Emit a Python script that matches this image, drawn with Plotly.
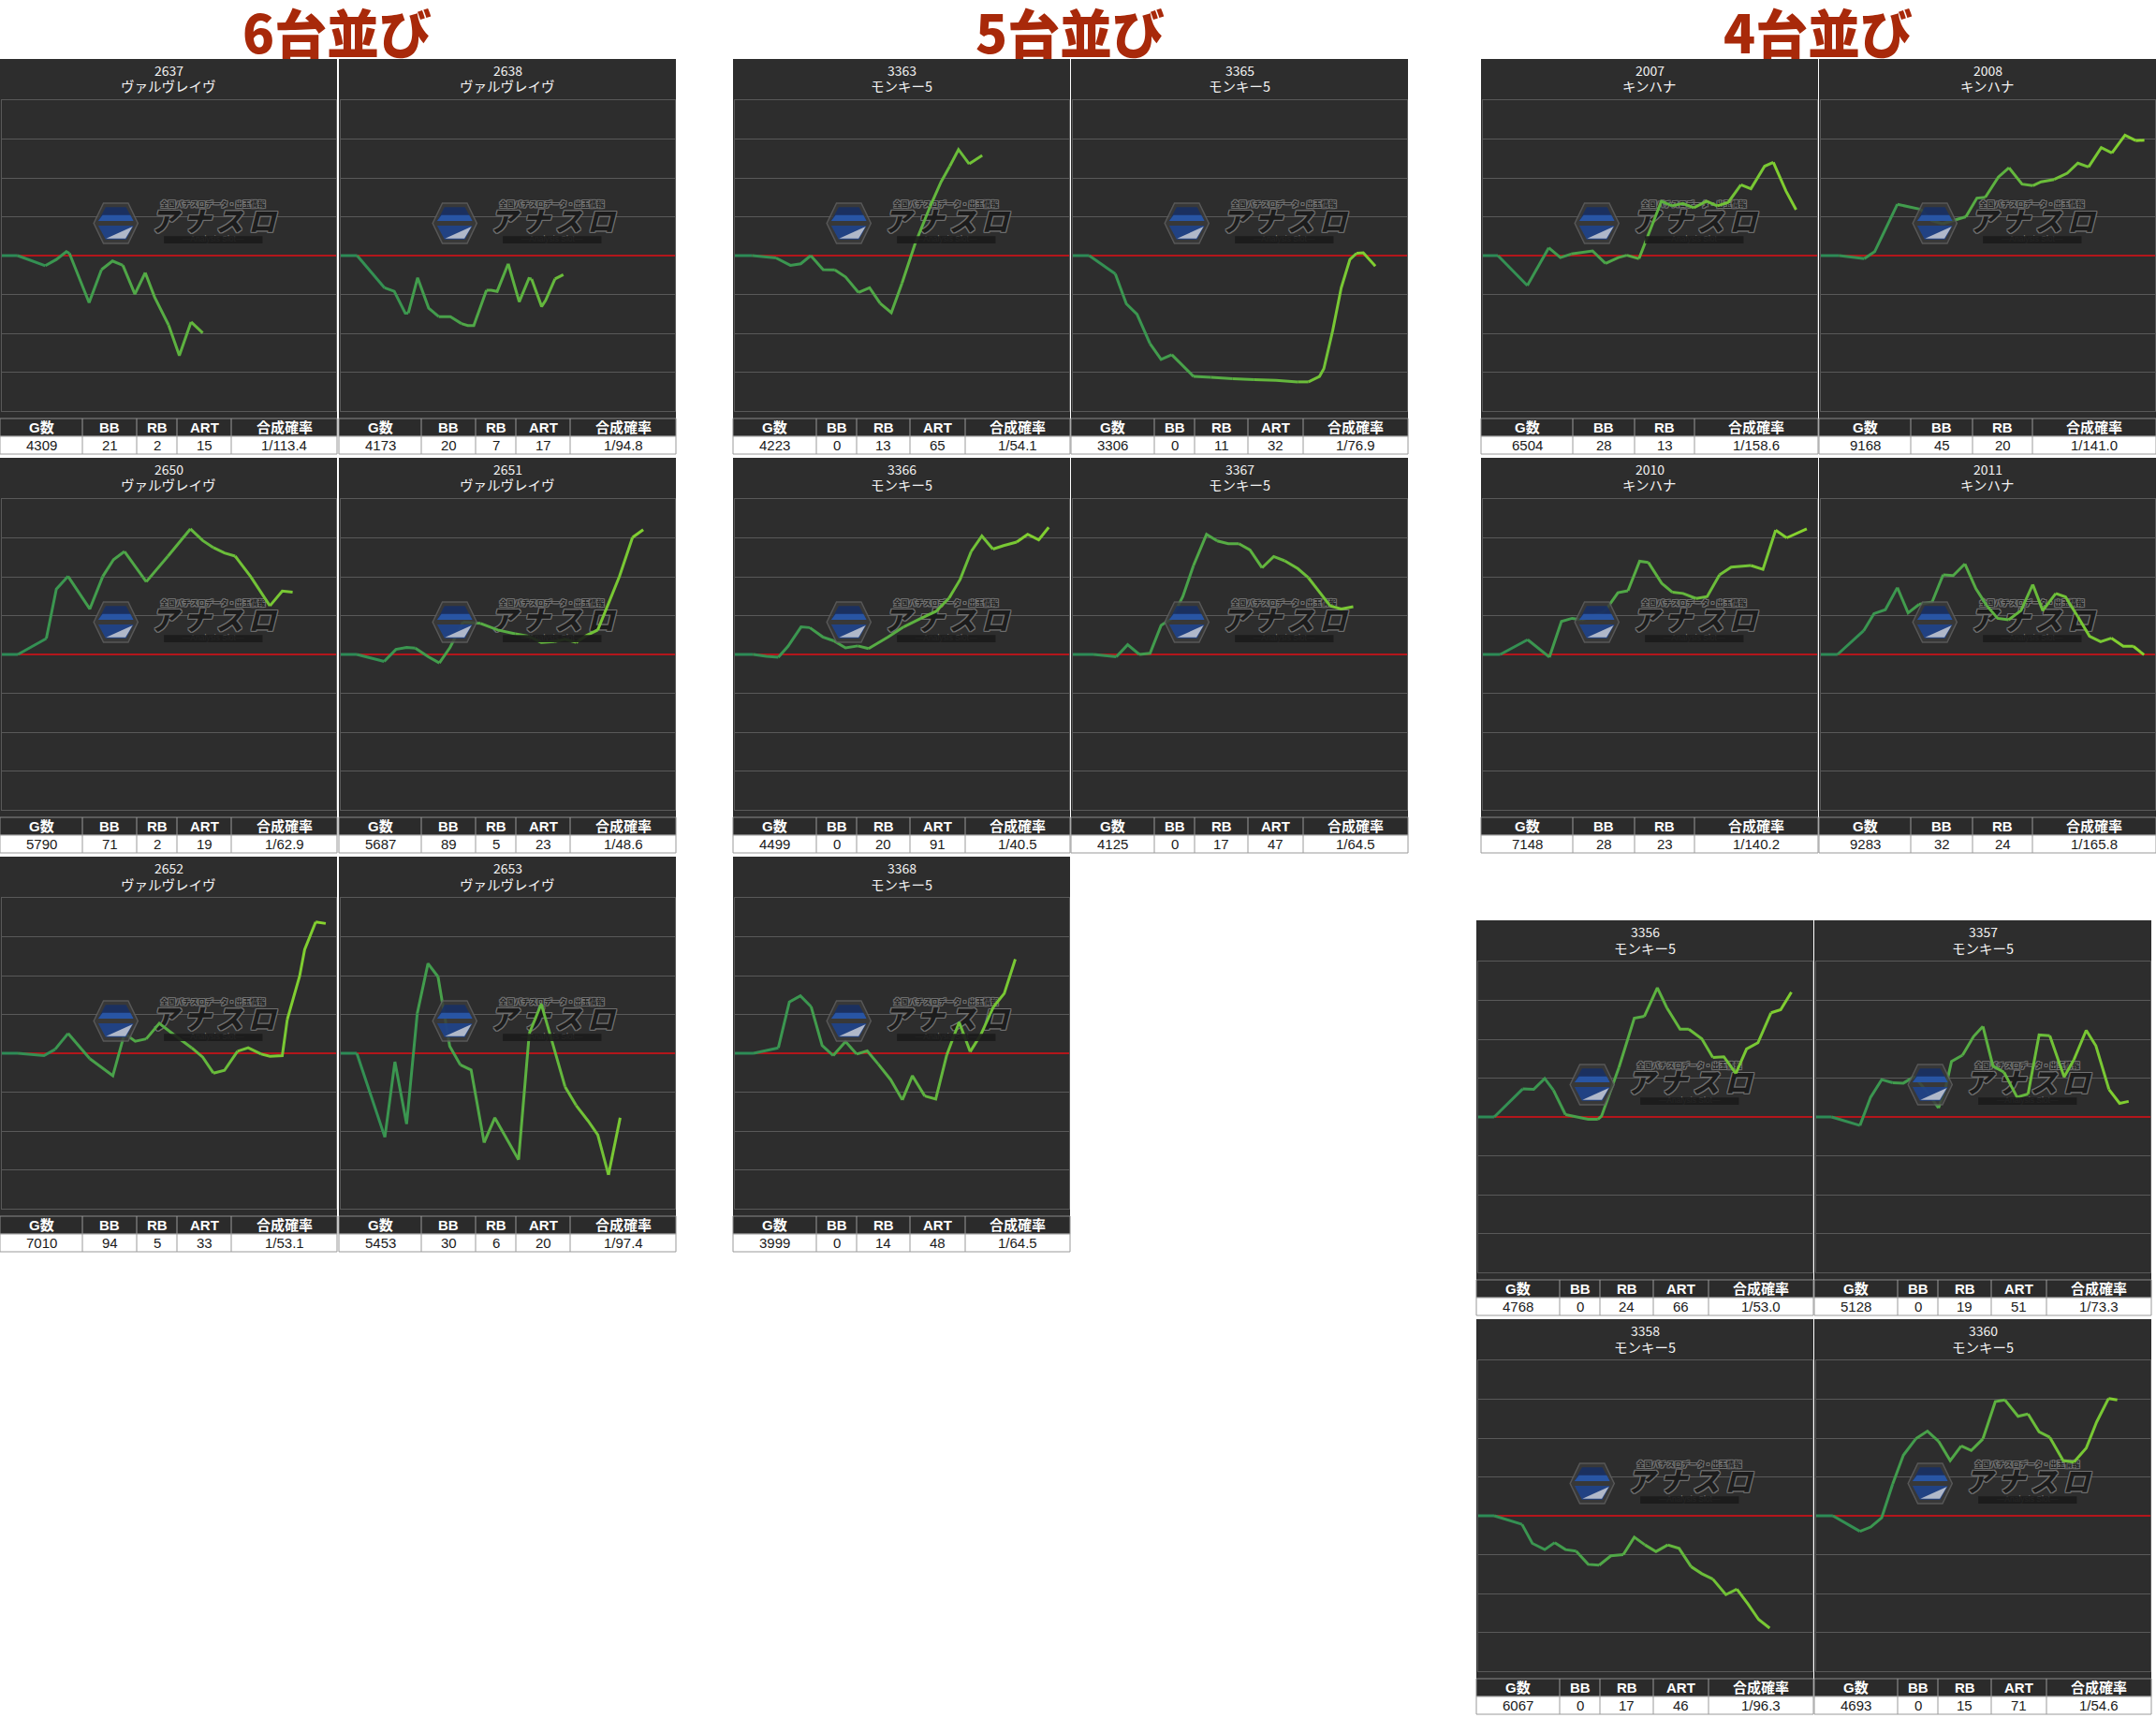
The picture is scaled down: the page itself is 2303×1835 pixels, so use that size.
import plotly.graph_objects as go

W, H = 2303, 1835

# ---------------- data ----------------
group_titles = ["6台並び", "5台並び", "4台並び"]

unit_ids = ["2637", "2638", "2650", "2651", "2652", "2653",
            "3363", "3365", "3366", "3367", "3368",
            "2007", "2008", "2010", "2011",
            "3356", "3357", "3358", "3360"]
machine_names = (["ヴァルヴレイヴ"] * 6 + ["モンキー5"] * 5 +
                 ["キンハナ"] * 4 + ["モンキー5"] * 4)

games = [4309, 4173, 5790, 5687, 7010, 5453,
         4223, 3306, 4499, 4125, 3999,
         6504, 9168, 7148, 9283,
         4768, 5128, 6067, 4693]
bb_counts = [21, 20, 71, 89, 94, 30,
             0, 0, 0, 0, 0,
             28, 45, 28, 32,
             0, 0, 0, 0]
rb_counts = [2, 7, 2, 5, 5, 6,
             13, 11, 20, 17, 14,
             13, 20, 23, 24,
             24, 19, 17, 15]
art_counts = [15, 17, 19, 23, 33, 20,
              65, 32, 91, 47, 48,
              None, None, None, None,
              66, 51, 46, 71]
combined_prob = ["1/113.4", "1/94.8", "1/62.9", "1/48.6", "1/53.1", "1/97.4",
                 "1/54.1", "1/76.9", "1/40.5", "1/64.5", "1/64.5",
                 "1/158.6", "1/141.0", "1/140.2", "1/165.8",
                 "1/53.0", "1/73.3", "1/96.3", "1/54.6"]

header_5 = ["G数", "BB", "RB", "ART", "合成確率"]
header_4 = ["G数", "BB", "RB", "合成確率"]

# slump graphs: x = time position (% of day), y = coin difference
x_2637 = [0, 4.7, 13.0, 16.3, 19.3, 20.2, 26.1, 29.8, 33.1, 36.2, 39.8, 42.9, 45.7, 49.9, 53.1, 56.6, 60.1]
y_2637 = [0, 0, -260, -100, 100, 60, -1210, -360, -140, -250, -990, -440, -1070, -1790, -2570, -1710, -1990]

x_2638 = [0, 4.9, 13.1, 16.0, 19.3, 20.2, 23.0, 26.3, 29.3, 32.8, 36.1, 38.0, 39.8, 43.6, 45.0, 46.8, 50.1, 53.4, 56.3, 57.1, 60.1, 61.3, 64.1, 66.6]
y_2638 = [0, 0, -830, -920, -1480, -1480, -570, -1350, -1570, -1570, -1750, -1800, -1800, -890, -890, -920, -210, -1190, -590, -600, -1310, -1150, -600, -490]

x_2650 = [0, 4.8, 13.3, 16.3, 19.8, 26.3, 30.2, 33.4, 36.7, 43.2, 49.7, 56.4, 60.1, 63.3, 66.6, 69.8, 74.4, 80.2, 83.9, 87.0]
y_2650 = [0, 0, 410, 1680, 2010, 1170, 2010, 2440, 2650, 1870, 2530, 3230, 2930, 2750, 2610, 2530, 2010, 1250, 1630, 1600]

x_2651 = [0, 4.8, 13.0, 16.5, 19.7, 22.3, 26.2, 29.5, 32.7, 36.6, 41.8, 47.0, 52.2, 56.1, 60.0, 63.9, 67.1, 70.4, 73.6, 76.9, 83.4, 87.3, 90.5]
y_2651 = [0, 0, -180, 130, 180, 160, -60, -220, 180, 830, 800, 630, 530, 470, 310, 330, 390, 310, 490, 630, 2010, 3010, 3210]

x_2652 = [0, 4.8, 12.6, 15.9, 19.8, 26.3, 33.2, 36.7, 39.9, 43.2, 47.1, 51.6, 56.8, 60.1, 63.3, 66.6, 70.5, 73.7, 77.6, 80.2, 83.9, 85.4, 89.1, 90.6, 93.9, 96.9]
y_2652 = [0, 0, -60, 100, 510, -140, -580, 510, 310, 370, 770, 470, 140, -100, -510, -440, 50, 140, -20, -80, -60, 870, 1990, 2670, 3380, 3340]

x_2653 = [0, 4.8, 13.2, 16.2, 19.7, 22.9, 26.1, 29.1, 32.6, 35.8, 39.0, 42.9, 46.1, 53.2, 56.4, 60.0, 67.1, 70.4, 74.0, 76.9, 80.1, 83.6]
y_2653 = [0, 0, -2160, -220, -1820, 1030, 2310, 1970, 180, -300, -430, -2300, -1660, -2740, 510, 1270, -860, -1340, -1740, -2100, -3130, -1660]

x_3363 = [0, 5.2, 12.3, 16.6, 19.7, 22.7, 26.4, 29.9, 33.1, 37.0, 40.3, 43.5, 46.8, 50.0, 53.9, 58.4, 61.7, 64.3, 66.9, 70.1, 74.0]
y_3363 = [0, 0, -60, -250, -210, 0, -360, -370, -550, -950, -830, -1230, -1470, -710, 300, 1260, 1900, 2300, 2730, 2360, 2580]

x_3365 = [0, 4.9, 12.7, 16.0, 19.2, 23.1, 26.4, 29.6, 32.9, 36.1, 41.3, 47.8, 54.3, 60.8, 67.3, 70.5, 73.8, 75.1, 77.7, 80.3, 82.9, 84.9, 86.9, 90.5]
y_3365 = [0, 0, -470, -1240, -1510, -2270, -2670, -2550, -2830, -3110, -3130, -3170, -3190, -3210, -3250, -3250, -3110, -2910, -1950, -830, -100, 60, 70, -270]

x_3366 = [0, 5.5, 9.4, 13.0, 15.9, 19.8, 22.4, 26.3, 29.6, 33.1, 36.8, 40.0, 45.9, 50.5, 55.7, 60.2, 64.1, 67.4, 70.7, 73.9, 77.2, 80.4, 84.3, 87.6, 90.9, 93.9]
y_3366 = [0, 0, -50, -70, 210, 710, 690, 450, 350, 170, 220, 150, 450, 710, 930, 1110, 1450, 1930, 2650, 3050, 2710, 2800, 2890, 3090, 2950, 3270]

x_3367 = [0, 6.2, 13.0, 16.4, 19.9, 23.1, 26.4, 29.6, 32.9, 36.1, 40.0, 43.2, 46.5, 49.7, 53.0, 56.6, 60.1, 63.4, 67.3, 70.5, 73.8, 77.0, 80.3, 83.9]
y_3367 = [0, 0, -60, 250, 0, 30, 750, 930, 1490, 2290, 3090, 2920, 2850, 2850, 2690, 2230, 2520, 2410, 2210, 1970, 1610, 1250, 1170, 1230]

x_3368 = [0, 5.6, 13.0, 16.3, 19.6, 22.8, 26.1, 29.4, 33.1, 36.4, 39.6, 42.9, 46.6, 50.1, 53.1, 56.8, 60.1, 63.4, 67.1, 70.4, 73.6, 77.4, 80.6, 83.9]
y_3368 = [0, 0, 140, 1320, 1480, 1200, 200, -60, 300, -20, 60, -280, -680, -1200, -580, -1100, -1180, -40, 800, 40, 480, 1200, 1540, 2420]

x_2007 = [0, 4.5, 13.3, 19.7, 23.2, 26.4, 32.8, 36.7, 40.5, 43.1, 46.7, 53.4, 56.6, 59.8, 63.1, 66.9, 70.1, 73.4, 77.2, 80.2, 84.3, 86.9, 90.7, 93.7]
y_2007 = [0, 0, -770, 200, -50, 40, 120, -200, -50, 10, -80, 1400, 1280, 1340, 1230, 1400, 1280, 1370, 1820, 1720, 2300, 2400, 1660, 1180]

x_2008 = [0, 5.5, 13.0, 16.1, 22.9, 29.9, 33.2, 36.4, 39.6, 43.4, 46.7, 49.2, 53.1, 56.3, 60.2, 63.4, 65.9, 69.8, 73.7, 76.9, 80.1, 83.9, 87.1, 91.0, 94.2, 96.8]
y_2008 = [0, 0, -80, 100, 1320, 1190, 900, 820, 900, 1000, 1480, 1500, 2020, 2260, 1840, 1800, 1900, 1960, 2120, 2380, 2280, 2780, 2640, 3100, 2960, 2970]

x_2010 = [0, 5.2, 13.4, 19.9, 23.5, 26.7, 29.6, 33.3, 36.5, 40.4, 43.4, 46.9, 49.5, 53.5, 56.7, 59.9, 63.8, 67.1, 70.8, 74.3, 80.2, 83.8, 87.6, 90.9, 96.9]
y_2010 = [0, 0, 380, -70, 850, 930, 890, 1010, 1110, 1590, 1640, 2400, 2370, 1830, 1600, 1570, 1440, 1490, 2050, 2250, 2290, 2190, 3200, 3000, 3230]

x_2011 = [0, 5.0, 12.8, 15.9, 19.3, 22.9, 26.1, 29.4, 33.3, 36.6, 39.6, 43.1, 46.4, 49.7, 52.9, 56.2, 59.9, 63.4, 66.4, 70.3, 73.2, 76.9, 80.4, 83.7, 86.9, 90.5, 93.5, 96.7]
y_2011 = [0, 0, 610, 1050, 1150, 1720, 1070, 1290, 1350, 2050, 2030, 2330, 1690, 1250, 930, 890, 1130, 1800, 1130, 1570, 1480, 970, 470, 330, 420, 210, 210, -10]

x_3356 = [0, 4.8, 13.3, 16.6, 19.9, 22.5, 26.1, 32.9, 35.8, 36.9, 42.1, 46.7, 49.7, 53.6, 56.5, 60.4, 63.0, 66.9, 70.2, 73.5, 77.1, 80.3, 83.7, 87.6, 90.5, 93.7]
y_3356 = [0, 0, 720, 710, 990, 690, 60, -60, -60, 20, 1270, 2540, 2590, 3320, 2800, 2260, 2260, 2010, 1530, 1550, 1120, 1750, 1910, 2680, 2760, 3210]

x_3357 = [0, 4.6, 13.1, 16.3, 19.6, 22.9, 26.1, 29.4, 33.3, 36.6, 38.6, 40.5, 43.8, 47.1, 49.9, 52.9, 56.2, 60.1, 63.4, 66.7, 69.9, 74.2, 77.1, 80.8, 83.7, 87.6, 90.8, 93.5]
y_3357 = [0, 0, -220, 510, 960, 880, 870, 1040, 630, 230, 710, 1430, 1590, 2070, 2330, 1310, 1150, 510, 590, 2110, 2090, 1030, 1470, 2230, 1830, 710, 350, 400]

x_3358 = [0, 4.8, 13.1, 16.2, 19.9, 22.9, 26.1, 29.3, 32.9, 36.2, 39.7, 43.4, 46.7, 49.9, 53.2, 56.7, 60.1, 63.7, 66.9, 70.2, 74.1, 77.4, 80.7, 83.9, 87.2]
y_3358 = [0, 0, -220, -710, -870, -690, -870, -910, -1250, -1270, -1030, -1000, -550, -750, -920, -750, -840, -1310, -1490, -1630, -2030, -1890, -2270, -2670, -2890]

x_3360 = [0, 5.0, 13.1, 16.3, 19.6, 22.9, 26.1, 29.8, 33.3, 36.6, 40.1, 43.4, 46.4, 49.9, 53.6, 56.5, 60.4, 63.4, 66.7, 69.9, 73.9, 77.1, 80.8, 83.9, 87.5, 90.1]
y_3360 = [0, 0, -400, -290, -50, 820, 1560, 1980, 2180, 1920, 1420, 1800, 1680, 1980, 2940, 2980, 2560, 2620, 2160, 2020, 1420, 1380, 1740, 2410, 3020, 2980]

series_x = [x_2637, x_2638, x_2650, x_2651, x_2652, x_2653,
            x_3363, x_3365, x_3366, x_3367, x_3368,
            x_2007, x_2008, x_2010, x_2011,
            x_3356, x_3357, x_3358, x_3360]
series_y = [y_2637, y_2638, y_2650, y_2651, y_2652, y_2653,
            y_3363, y_3365, y_3366, y_3367, y_3368,
            y_2007, y_2008, y_2010, y_2011,
            y_3356, y_3357, y_3358, y_3360]

# ---------------- layout constants ----------------
panel_left = [0, 362, 0, 362, 0, 362,
              783, 1144, 783, 1144, 783,
              1582, 1943, 1582, 1943,
              1577, 1938, 1577, 1938]
panel_top = [63, 63, 489, 489, 915, 915,
             63, 63, 489, 489, 915,
             63, 63, 489, 489,
             983, 983, 1409, 1409]
group_title_x = [360, 1143, 1942]
GROUP_TITLE_Y = 32
PW = 360
YMAX = 4000

COLS_VALV = [88, 58, 43, 58, 113]
COLS_MONK = [89, 43, 57, 59, 112]
COLS_KIN = [98, 66, 64, 132]

BG = "#2d2d2d"
GRID = "#595959"
ZERO_RED = "#b3161b"
C0 = (42, 136, 88)
C1 = (138, 214, 44)

FONT_JP = "Noto Sans CJK JP"
FONT_TAB = "Liberation Sans, Noto Sans CJK JP"


def px(x):
    return x / W


def py(y):
    return 1 - y / H


def grad_color(t):
    t = max(0.0, min(1.0, t))
    r = round(C0[0] + (C1[0] - C0[0]) * t)
    g = round(C0[1] + (C1[1] - C0[1]) * t)
    b = round(C0[2] + (C1[2] - C0[2]) * t)
    return f"rgb({r},{g},{b})"


fig = go.Figure()
shapes = []
annotations = []
layout_axes = {}

# group titles
for t, cx in zip(group_titles, group_title_x):
    annotations.append(dict(
        x=px(cx), y=py(GROUP_TITLE_Y), xref="paper", yref="paper",
        text=t, showarrow=False, xanchor="center", yanchor="middle",
        font=dict(family=FONT_JP, size=56, color="#a8290a", weight=900)))

# logo geometry (fractions of plot area)
HEX_X0, HEX_W = 0.275, 0.132
HEX_Y0, HEX_H = 0.539, 0.130
LOGO_CX = 0.632


def hex_path(pts):
    return "M " + " L ".join(
        f"{HEX_X0 + u * HEX_W:.4f},{HEX_Y0 + v * HEX_H:.4f}" for u, v in pts) + " Z"


def frac_to_y(f):
    return -YMAX + 2 * YMAX * f


N_BINS = 14
outline = ("1px 1px 0 #707070, -1px -1px 0 #707070, 1px -1px 0 #707070, -1px 1px 0 #707070, "
           "0 1px 0 #707070, 0 -1px 0 #707070, 1px 0 0 #707070, -1px 0 0 #707070")
LOGO_WORD = "\u2009".join("アナスロ")

for i in range(len(unit_ids)):
    k = i + 1
    xa = "x" if k == 1 else f"x{k}"
    ya = "y" if k == 1 else f"y{k}"
    xkey = "xaxis" if k == 1 else f"xaxis{k}"
    ykey = "yaxis" if k == 1 else f"yaxis{k}"
    L, T = panel_left[i], panel_top[i]

    # panel background
    shapes.append(dict(type="rect", xref="paper", yref="paper",
                       x0=px(L), x1=px(L + PW), y0=py(T + 384), y1=py(T),
                       fillcolor=BG, line=dict(width=0), layer="below"))

    layout_axes[xkey] = dict(domain=[px(L + 2), px(L + PW - 1)], anchor=ya,
                             range=[0, 100], showgrid=False, zeroline=False,
                             showticklabels=False, ticks="", showline=True,
                             mirror=True, linecolor=GRID, linewidth=1,
                             fixedrange=True)
    layout_axes[ykey] = dict(domain=[py(T + 376), py(T + 44)], anchor=xa,
                             range=[-YMAX, YMAX], tick0=0, dtick=1000,
                             showgrid=True, gridcolor=GRID, gridwidth=1,
                             zeroline=True, zerolinecolor=ZERO_RED,
                             zerolinewidth=1.6, showticklabels=False,
                             ticks="", showline=True, mirror=True,
                             linecolor=GRID, linewidth=1, fixedrange=True)

    # watermark emblem (hexagon)
    xr, yr = f"{xa} domain", f"{ya} domain"
    hex_parts = [
        ([(0.22, 1), (0.78, 1), (1, 0.5), (0.78, 0), (0.22, 0), (0, 0.5)], "#3b3b3b", "#5f5f5f"),
        ([(0.27, 0.9), (0.73, 0.9), (0.9, 0.56), (0.1, 0.56)], "#162f66", None),
        ([(0.2, 0.7), (0.83, 0.7), (0.9, 0.56), (0.1, 0.56)], "#2a5cb0", None),
        ([(0.1, 0.44), (0.9, 0.44), (0.73, 0.1), (0.27, 0.1)], "#1d4490", None),
        ([(0.28, 0.12), (0.88, 0.42), (0.72, 0.12)], "#c9ccd6", None),
    ]
    for pts, fc, lc in hex_parts:
        shapes.append(dict(type="path", xref=xr, yref=yr, path=hex_path(pts),
                           fillcolor=fc,
                           line=dict(color=lc or fc, width=1.5 if lc else 0),
                           layer="above", opacity=0.85))
    shapes.append(dict(type="rect", xref=xr, yref=yr, x0=0.485, x1=0.78,
                       y0=0.539, y1=0.5625, fillcolor="#1b1b1b",
                       line=dict(width=0), layer="above", opacity=0.9))

    # watermark texts (drawn under the slump line)
    fig.add_trace(go.Scatter(
        x=[LOGO_CX * 100, LOGO_CX * 100, LOGO_CX * 100],
        y=[frac_to_y(0.664), frac_to_y(0.601), frac_to_y(0.551)],
        text=["全国パチスロデータ・出玉情報", LOGO_WORD, "—Analysis Slot—"],
        mode="text", textposition="middle center", hoverinfo="skip",
        showlegend=False, xaxis=xa, yaxis=ya,
        textfont=dict(family=[FONT_JP, FONT_JP, "Liberation Sans"],
                      size=[8, 29, 8.5],
                      color=["#1e1e1e", "#1c1c1c", "#8a8a8a"],
                      weight=[700, 900, 400],
                      style=["normal", "italic", "normal"],
                      shadow=[outline, outline, "none"])))

    # slump line with left-to-right colour gradient
    xs, ys = series_x[i], series_y[i]
    groups = []
    cur = None
    for j in range(len(xs) - 1):
        mid = (xs[j] + xs[j + 1]) / 2
        b = min(int(mid / 100 * N_BINS), N_BINS - 1)
        if b != cur:
            groups.append([b, j, j + 1])
            cur = b
        else:
            groups[-1][2] = j + 1
    for b, j0, j1 in groups:
        fig.add_trace(go.Scatter(
            x=xs[j0:j1 + 1], y=ys[j0:j1 + 1], mode="lines",
            line=dict(color=grad_color((b + 0.5) / N_BINS), width=3),
            hoverinfo="skip", showlegend=False, xaxis=xa, yaxis=ya))

    # panel titles
    annotations.append(dict(x=px(L + PW / 2), y=py(T + 12), xref="paper", yref="paper",
                            text=unit_ids[i], showarrow=False, xanchor="center",
                            yanchor="middle",
                            font=dict(family=FONT_JP, size=14, color="#f2f2f2")))
    annotations.append(dict(x=px(L + PW / 2), y=py(T + 29), xref="paper", yref="paper",
                            text=machine_names[i], showarrow=False, xanchor="center",
                            yanchor="middle",
                            font=dict(family=FONT_JP, size=14.5, color="#f2f2f2")))

    # stats table
    if art_counts[i] is None:
        headers = header_4
        values = [str(games[i]), str(bb_counts[i]), str(rb_counts[i]), combined_prob[i]]
        widths = COLS_KIN
    else:
        headers = header_5
        values = [str(games[i]), str(bb_counts[i]), str(rb_counts[i]),
                  str(art_counts[i]), combined_prob[i]]
        widths = COLS_VALV if machine_names[i] == "ヴァルヴレイヴ" else COLS_MONK
    hy0, hy1, dy1 = T + 384, T + 403, T + 422
    shapes.append(dict(type="rect", xref="paper", yref="paper",
                       x0=px(L), x1=px(L + PW), y0=py(hy1), y1=py(hy0),
                       fillcolor="#2b2b2b", line=dict(color="#8a8a8a", width=1),
                       layer="above"))
    shapes.append(dict(type="rect", xref="paper", yref="paper",
                       x0=px(L), x1=px(L + PW), y0=py(dy1), y1=py(hy1),
                       fillcolor="#ffffff", line=dict(color="#9a9a9a", width=1),
                       layer="above"))
    cx = L
    for c, (hd, val, wd) in enumerate(zip(headers, values, widths)):
        if c > 0:
            shapes.append(dict(type="line", xref="paper", yref="paper",
                               x0=px(cx), x1=px(cx), y0=py(dy1), y1=py(hy0),
                               line=dict(color="#9a9a9a", width=1), layer="above"))
        annotations.append(dict(x=px(cx + wd / 2), y=py((hy0 + hy1) / 2),
                                xref="paper", yref="paper", text=hd, showarrow=False,
                                xanchor="center", yanchor="middle",
                                font=dict(family=FONT_TAB, size=15, color="#ffffff",
                                          weight="bold")))
        annotations.append(dict(x=px(cx + wd / 2), y=py((hy1 + dy1) / 2),
                                xref="paper", yref="paper", text=val, showarrow=False,
                                xanchor="center", yanchor="middle",
                                font=dict(family=FONT_TAB, size=15, color="#1a1a1a")))
        cx += wd

fig.update_layout(
    width=W, height=H, margin=dict(l=0, r=0, t=0, b=0),
    paper_bgcolor="#ffffff", plot_bgcolor=BG,
    showlegend=False, shapes=shapes, annotations=annotations,
    **layout_axes)

fig.write_html("out.html", config={"displayModeBar": False, "staticPlot": True},
               post_script="document.body.style.margin='0';document.body.style.overflow='hidden';")
